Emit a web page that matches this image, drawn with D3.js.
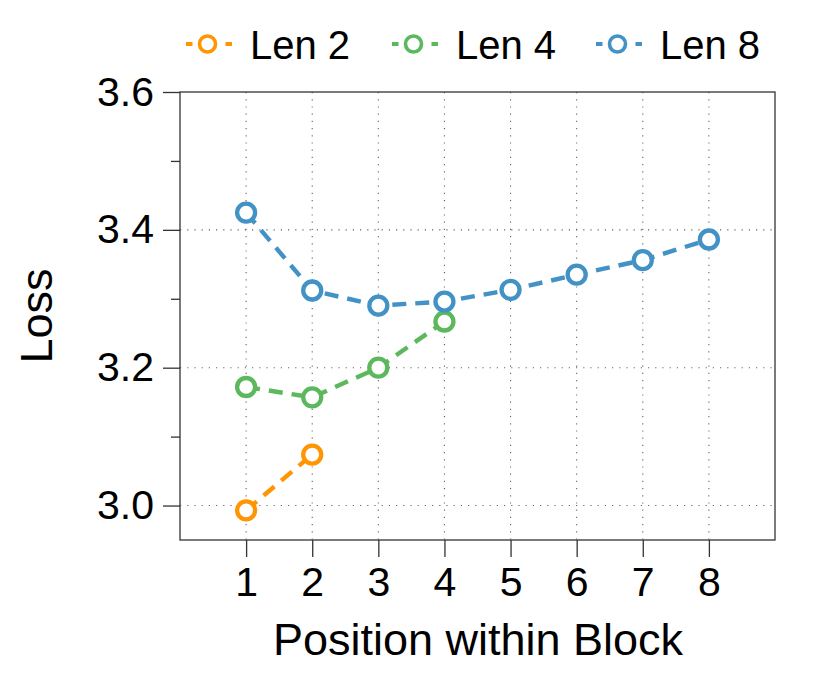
<!DOCTYPE html>
<html><head><meta charset="utf-8">
<script src="https://cdn.jsdelivr.net/npm/d3@7"></script>
<style>body{margin:0;background:#fff}svg{display:block}text{font-family:"Liberation Sans",Arial,sans-serif}</style>
</head><body>
<script>
const positions = [1,2,3,4,5,6,7,8];
const xTicks = [1,2,3,4,5,6,7,8];
const yTicks = [3.0,3.2,3.4,3.6];
const yMinorTicks = [3.1,3.3,3.5];
const seriesNames = ["Len 2","Len 4","Len 8"];
const seriesColors = ["#ff9500","#5cb85c","#4292c6"];
const len2 = [2.993,3.074];
const len4 = [3.172,3.157,3.200,3.267];
const len8 = [3.425,3.312,3.290,3.296,3.313,3.335,3.356,3.386];
const allSeries = [len2,len4,len8];

const W=831,H=684;
const m={l:180,r:56,t:92,b:144};
const svg=d3.select("body").append("svg").attr("width",W).attr("height",H);
const x=d3.scaleLinear().domain([0,9]).range([m.l,W-m.r]);
const y=d3.scaleLinear().domain([2.95,3.6]).range([H-m.b,m.t]);
const g=svg.append("g");

// grid
g.selectAll(".gy").data(yTicks.filter(d=>d<3.6)).enter().append("line")
 .attr("x1",x(0)).attr("x2",x(9)).attr("y1",d=>y(d)).attr("y2",d=>y(d))
 .attr("stroke","#666").attr("stroke-width",1.1).attr("stroke-dasharray","1.2,6");
g.selectAll(".gx").data(xTicks).enter().append("line")
 .attr("x1",d=>x(d)).attr("x2",d=>x(d)).attr("y1",y(3.6)).attr("y2",y(2.95))
 .attr("stroke","#666").attr("stroke-width",1.1).attr("stroke-dasharray","1.2,6");

// frame
g.append("rect").attr("x",x(0)).attr("y",y(3.6)).attr("width",x(9)-x(0)).attr("height",y(2.95)-y(3.6))
 .attr("fill","none").attr("stroke","#333").attr("stroke-width",1.3);

// axes
const yAx=g.append("g").attr("transform",`translate(${x(0)},0)`)
 .call(d3.axisLeft(y).tickValues(yTicks).tickFormat(d3.format(".1f")).tickSize(17).tickPadding(9));
const yMin=g.append("g").attr("transform",`translate(${x(0)},0)`)
 .call(d3.axisLeft(y).tickValues(yMinorTicks).tickFormat("").tickSize(9));
const xAx=g.append("g").attr("transform",`translate(0,${y(2.95)})`)
 .call(d3.axisBottom(x).tickValues(xTicks).tickFormat(d3.format("d")).tickSize(17).tickPadding(10));
[yAx,yMin,xAx].forEach(a=>{a.select(".domain").remove();a.selectAll("line").attr("stroke","#333").attr("stroke-width",1.3);
 a.selectAll("text").attr("fill","#000").style("font-size","41px").style("font-family","'Liberation Sans',Arial,sans-serif");});

// lines and markers
allSeries.forEach((s,i)=>{
 const pts=s.map((v,j)=>[positions[j],v]);
 g.append("path").datum(pts).attr("fill","none").attr("stroke",seriesColors[i]).attr("stroke-width",4.4)
  .attr("stroke-dasharray","14,9").attr("d",d3.line().x(d=>x(d[0])).y(d=>y(d[1])));
 g.selectAll(null).data(pts).enter().append("circle").attr("cx",d=>x(d[0])).attr("cy",d=>y(d[1])).attr("r",9)
  .attr("fill","#fff").attr("stroke",seriesColors[i]).attr("stroke-width",4.3);
});

// axis titles
svg.append("text").attr("x",478).attr("y",655).attr("text-anchor","middle").style("font-size","45px").text("Position within Block");
svg.append("text").attr("transform","translate(52,316) rotate(-90)").attr("text-anchor","middle").style("font-size","45px").text("Loss");

// legend
const legX=[186,392,596];
seriesNames.forEach((n,i)=>{
 const lg=svg.append("g").attr("transform",`translate(${legX[i]},44)`);
 lg.append("line").attr("x1",0).attr("x2",46).attr("y1",0).attr("y2",0).attr("stroke",seriesColors[i]).attr("stroke-width",3.8).attr("stroke-dasharray","6.5,33");
 lg.append("circle").attr("cx",21.5).attr("cy",0).attr("r",8).attr("fill","#fff").attr("stroke",seriesColors[i]).attr("stroke-width",3.6);
 lg.append("text").attr("x",64).attr("y",15).style("font-size","40px").text(n);
});
</script>
</body></html>
